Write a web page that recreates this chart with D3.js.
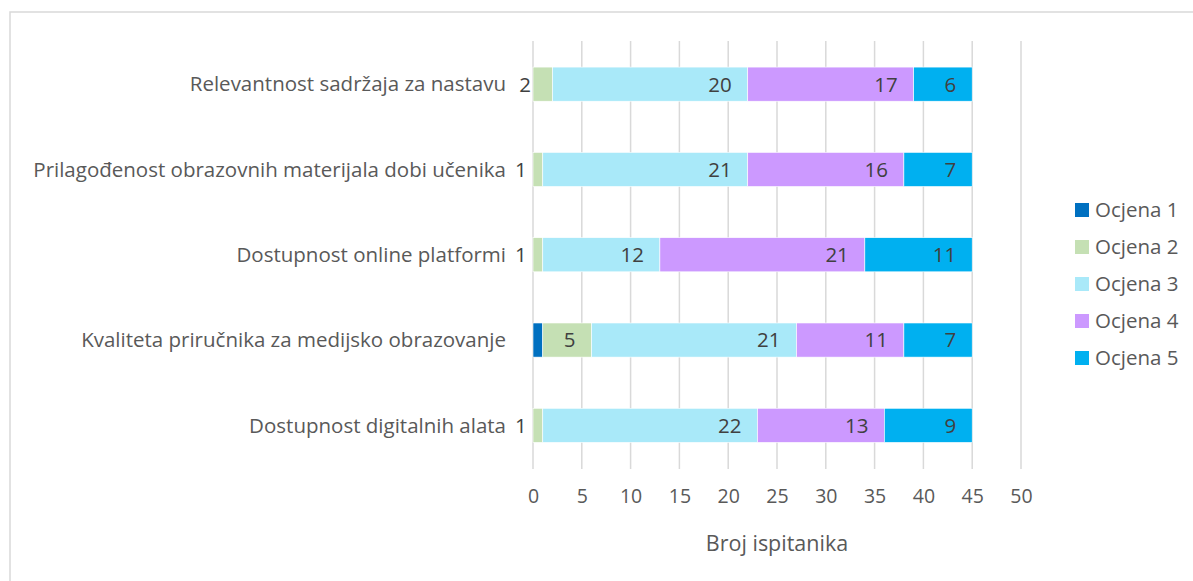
<!DOCTYPE html>
<html>
<head>
<meta charset="utf-8">
<script src="https://cdn.jsdelivr.net/npm/d3@7"></script>
<style>
  body { margin: 0; background: #fff; }
  text { font-family: "Open Sans", "Noto Sans", sans-serif; fill: #595959; }
</style>
</head>
<body>
<div id="chart"></div>
<script>
// categories, top to bottom
var categories = [
    "Relevantnost sadržaja za nastavu",
    "Prilagođenost obrazovnih materijala dobi učenika",
    "Dostupnost online platformi",
    "Kvaliteta priručnika za medijsko obrazovanje",
    "Dostupnost digitalnih alata"
]
var seriesNames = ["Ocjena 1", "Ocjena 2", "Ocjena 3", "Ocjena 4", "Ocjena 5"]
var ocjena1 = [0, 0, 0, 1, 0]
var ocjena2 = [2, 1, 1, 5, 1]
var ocjena3 = [20, 21, 12, 21, 22]
var ocjena4 = [17, 16, 21, 11, 13]
var ocjena5 = [6, 7, 11, 7, 9]
var xTicks = [0, 5, 10, 15, 20, 25, 30, 35, 40, 45, 50]
var colors = ["#0070C0", "#C5E0B4", "#A9E9F9", "#CC99FF", "#00B0F0"]

var W = 1193, H = 581

var svg = d3.select("#chart").append("svg")
    .attr("width", W)
    .attr("height", H)

// chart border
svg.append("rect")
    .attr("x", 10).attr("y", 12)
    .attr("width", 1200).attr("height", 600)
    .attr("fill", "none")
    .attr("stroke", "#d9d9d9")
    .attr("stroke-width", 1.5)

var x = d3.scaleLinear().domain([0, 50]).range([533, 1021])
var y = d3.scaleBand().domain(categories).range([41.5, 468]).paddingInner(0.6).paddingOuter(0.3)

// gridlines
svg.append("g").selectAll("line")
    .data(xTicks)
    .enter().append("line")
    .attr("x1", d => x(d)).attr("x2", d => x(d))
    .attr("y1", 41).attr("y2", 469)
    .attr("stroke", "#d9d9d9")
    .attr("stroke-width", 1.5)

// x axis
var xAxis = svg.append("g")
    .attr("transform", "translate(0,469)")
    .call(d3.axisBottom(x).tickValues(xTicks).tickSize(0).tickPadding(20))
xAxis.select(".domain").remove()
xAxis.selectAll("text")
    .style("font-size", "19.5px")
    .style("font-family", "'Open Sans', sans-serif")
    .attr("fill", "#595959")

svg.append("text")
    .attr("x", x(25))
    .attr("y", 551)
    .attr("text-anchor", "middle")
    .style("font-size", "21.5px")
    .text("Broj ispitanika")

// category labels
svg.append("g").selectAll("text")
    .data(categories)
    .enter().append("text")
    .attr("x", 506)
    .attr("y", d => y(d) + y.bandwidth() / 2)
    .attr("dy", "0.35em")
    .attr("text-anchor", "end")
    .style("font-size", "20.5px")
    .text(d => d)

// stack
var rows = categories.map(function(c, i) {
    return {cat: c, "Ocjena 1": ocjena1[i], "Ocjena 2": ocjena2[i], "Ocjena 3": ocjena3[i], "Ocjena 4": ocjena4[i], "Ocjena 5": ocjena5[i]}
})
var stacked = d3.stack().keys(seriesNames)(rows)

var layers = svg.append("g").selectAll("g")
    .data(stacked)
    .enter().append("g")
    .attr("fill", (d, i) => colors[i])

layers.selectAll("rect")
    .data(d => d)
    .enter().append("rect")
    .attr("x", d => x(d[0]))
    .attr("y", d => y(d.data.cat))
    .attr("width", d => x(d[1]) - x(d[0]))
    .attr("height", y.bandwidth())
    .attr("stroke", "#fff")
    .attr("stroke-width", 0.6)

// value labels (inside end), Ocjena 1 not labelled
layers.filter((d, i) => i > 0).selectAll("text")
    .data(d => d.filter(p => p[1] - p[0] > 0))
    .enter().append("text")
    .attr("x", d => Math.min(x(d[1]) - 16, x(d[0]) > x(0) + 1 ? Infinity : x(d[0]) - 2))
    .attr("y", d => y(d.data.cat) + y.bandwidth() / 2)
    .attr("dy", "0.36em")
    .attr("text-anchor", "end")
    .style("font-size", "20.5px")
    .style("fill", "#404040")
    .text(d => d[1] - d[0])

// legend
var legend = svg.append("g").selectAll("g")
    .data(seriesNames)
    .enter().append("g")
    .attr("transform", (d, i) => "translate(1075," + (210 + i * 37) + ")")
legend.append("rect")
    .attr("x", 0).attr("y", -7)
    .attr("width", 14).attr("height", 14)
    .attr("fill", (d, i) => colors[i])
legend.append("text")
    .attr("x", 20)
    .attr("dy", "0.36em")
    .style("font-size", "20.5px")
    .text(d => d)
</script>
</body>
</html>
